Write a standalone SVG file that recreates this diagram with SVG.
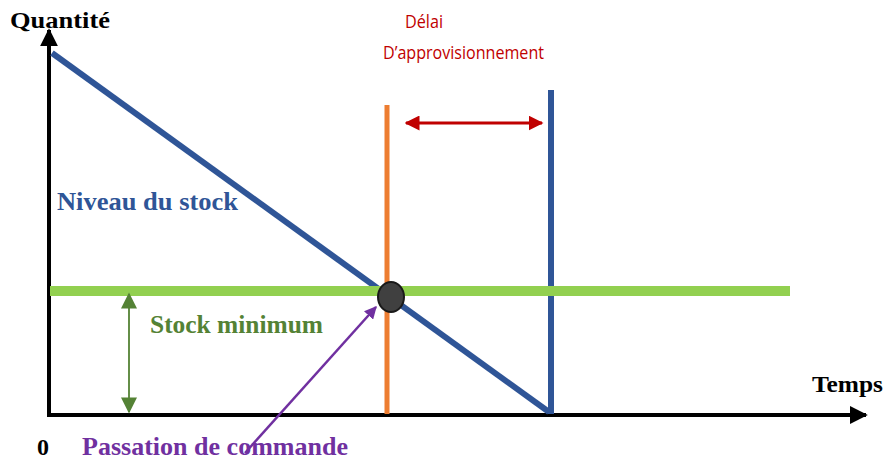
<svg xmlns="http://www.w3.org/2000/svg" width="886" height="463" viewBox="0 0 886 463">
<style>
.lbl{font-family:"Liberation Serif","Times New Roman",serif;font-weight:bold;}
.cal{font-family:"Open Sans","Liberation Sans",sans-serif;}
</style>
<defs>
<marker id="ak" viewBox="0 0 10 10" refX="9" refY="5" markerWidth="4.5" markerHeight="4.5" orient="auto-start-reverse"><path d="M0,0 L10,5 L0,10 z" fill="#000"/></marker>
<marker id="ar" viewBox="0 0 10 10" refX="9" refY="5" markerWidth="5" markerHeight="5" orient="auto-start-reverse"><path d="M0,0 L10,5 L0,10 z" fill="#C00000"/></marker>
<marker id="ag" viewBox="0 0 10 10" refX="9" refY="5" markerWidth="9" markerHeight="9" orient="auto-start-reverse"><path d="M0,0 L10,5 L0,10 z" fill="#548235"/></marker>
<marker id="ap" viewBox="0 0 10 10" refX="9" refY="5" markerWidth="5" markerHeight="5" orient="auto"><path d="M0,0 L10,5 L0,10 z" fill="#7030A0"/></marker>
</defs>
<rect width="886" height="463" fill="#fff"/>
<g id="connectors">
<line x1="49" y1="417" x2="49" y2="30" stroke="#000" stroke-width="4" marker-end="url(#ak)"/>
<line x1="47" y1="415" x2="866" y2="415" stroke="#000" stroke-width="4" marker-end="url(#ak)"/>
<line x1="52" y1="53" x2="549" y2="412" stroke="#2F5597" stroke-width="6"/>
<line x1="551" y1="90" x2="551" y2="414" stroke="#2F5597" stroke-width="6"/>
<line x1="387" y1="105" x2="387" y2="414" stroke="#ED7D31" stroke-width="5"/>
<line x1="50" y1="291" x2="790" y2="291" stroke="#92D050" stroke-width="10"/>
<line x1="406" y1="123" x2="542" y2="123" stroke="#C00000" stroke-width="3" marker-start="url(#ar)" marker-end="url(#ar)"/>
<line x1="129" y1="294" x2="129" y2="412" stroke="#548235" stroke-width="1.8" marker-start="url(#ag)" marker-end="url(#ag)"/>
<line x1="245" y1="453" x2="376" y2="307" stroke="#7030A0" stroke-width="2.5" marker-end="url(#ap)"/>
</g>
<g id="point"><ellipse cx="391" cy="297" rx="13" ry="15" fill="#404040" stroke="#1a1a1a" stroke-width="2"/></g>
<g id="labels">
<text class="lbl" x="10" y="28" font-size="24" fill="#000" textLength="100" lengthAdjust="spacingAndGlyphs">Quantité</text>
<text class="lbl" x="812" y="392" font-size="24" fill="#000" textLength="71" lengthAdjust="spacingAndGlyphs">Temps</text>
<text class="lbl" x="37" y="455" font-size="24" fill="#000">0</text>
<text class="lbl" x="57" y="210" font-size="26" fill="#2F5597" textLength="181" lengthAdjust="spacingAndGlyphs">Niveau du stock</text>
<text class="lbl" x="150" y="333" font-size="25" fill="#548235" textLength="173" lengthAdjust="spacingAndGlyphs">Stock minimum</text>
<text class="lbl" x="82" y="455" font-size="26" fill="#7030A0" textLength="266" lengthAdjust="spacingAndGlyphs">Passation de commande</text>
<text class="cal" x="405" y="28" font-size="18" fill="#C00000" textLength="38" lengthAdjust="spacingAndGlyphs">Délai</text>
<text class="cal" x="383" y="59" font-size="18" fill="#C00000" textLength="161" lengthAdjust="spacingAndGlyphs">D’approvisionnement</text>
</g>
</svg>
